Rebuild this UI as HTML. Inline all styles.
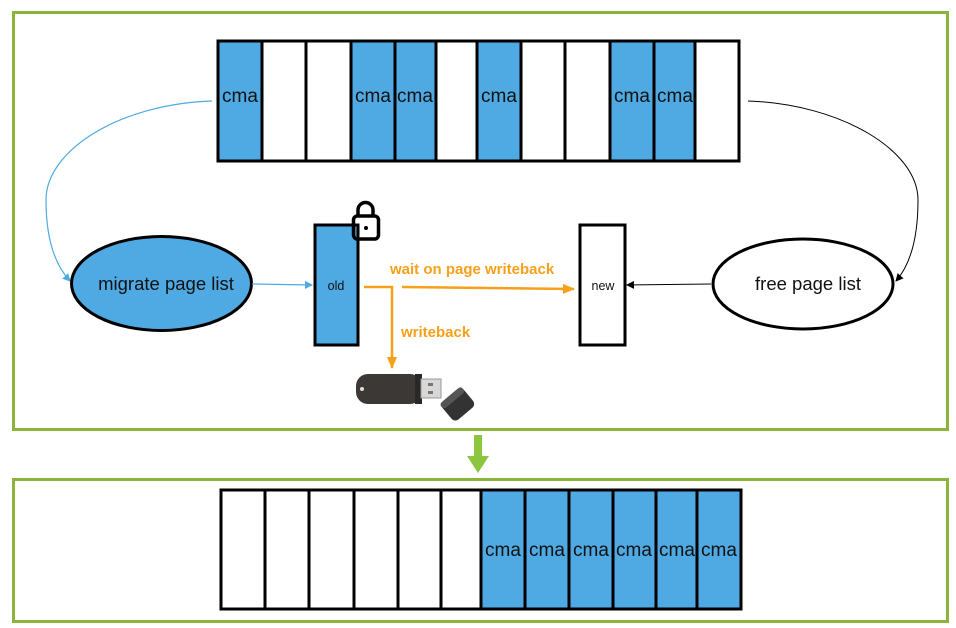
<!DOCTYPE html>
<html><head><meta charset="utf-8"><style>
html,body{margin:0;padding:0;background:#fff;}
svg{display:block;}
text{font-family:"Liberation Sans",Arial,sans-serif;}
</style></head><body>
<svg width="956" height="628" viewBox="0 0 956 628" xmlns="http://www.w3.org/2000/svg">
<defs>
<marker id="ab" markerWidth="8" markerHeight="8" refX="7" refY="4" orient="auto" markerUnits="userSpaceOnUse"><path d="M0,0 L8,4 L0,8 z" fill="#4fa9e2"/></marker>
<marker id="ak" markerWidth="8" markerHeight="8" refX="7" refY="4" orient="auto" markerUnits="userSpaceOnUse"><path d="M0,0 L8,4 L0,8 z" fill="#000"/></marker>
<marker id="ao" markerWidth="12" markerHeight="10" refX="11" refY="5" orient="auto" markerUnits="userSpaceOnUse"><path d="M0,0 L12,5 L0,10 z" fill="#f7a01a"/></marker>
</defs>
<rect x="13.5" y="12.5" width="934" height="417" fill="none" stroke="#8cb33a" stroke-width="3"/>
<rect x="13.5" y="479.5" width="934" height="142" fill="none" stroke="#8cb33a" stroke-width="3"/>
<g stroke="#000" stroke-width="3">
<rect x="218" y="41" width="44" height="120" fill="#4fa9e2"/>
<rect x="262" y="41" width="44" height="120" fill="#fff"/>
<rect x="306" y="41" width="45" height="120" fill="#fff"/>
<rect x="351" y="41" width="44" height="120" fill="#4fa9e2"/>
<rect x="395" y="41" width="41" height="120" fill="#4fa9e2"/>
<rect x="436" y="41" width="41" height="120" fill="#fff"/>
<rect x="477" y="41" width="44" height="120" fill="#4fa9e2"/>
<rect x="521" y="41" width="44" height="120" fill="#fff"/>
<rect x="565" y="41" width="45" height="120" fill="#fff"/>
<rect x="610" y="41" width="44" height="120" fill="#4fa9e2"/>
<rect x="654" y="41" width="41" height="120" fill="#4fa9e2"/>
<rect x="695" y="41" width="44" height="120" fill="#fff"/>
</g>
<g font-size="19" fill="#111" text-anchor="middle">
<text x="240" y="102">cma</text><text x="373" y="102">cma</text><text x="415" y="102">cma</text>
<text x="499" y="102">cma</text><text x="632" y="102">cma</text><text x="675" y="102">cma</text>
</g>
<path d="M212,101 C120,104 46,150 46,200 C46,240 55,265 70,281" fill="none" stroke="#4fa9e2" stroke-width="1.2" marker-end="url(#ab)"/>
<path d="M748,101 C840,104 918,150 918,200 C918,240 910,265 896,281" fill="none" stroke="#000" stroke-width="1" marker-end="url(#ak)"/>
<ellipse cx="161.5" cy="283.5" rx="90" ry="47" fill="#4fa9e2" stroke="#000" stroke-width="3"/>
<text x="166" y="290" font-size="18.5" text-anchor="middle" fill="#111">migrate page list</text>
<ellipse cx="803" cy="284" rx="90" ry="45" fill="#fff" stroke="#000" stroke-width="3"/>
<text x="808" y="290" font-size="18.5" text-anchor="middle" fill="#111">free page list</text>
<line x1="252" y1="284" x2="312" y2="285" stroke="#4fa9e2" stroke-width="1.2" marker-end="url(#ab)"/>
<line x1="711" y1="284" x2="627" y2="285" stroke="#000" stroke-width="1" marker-end="url(#ak)"/>
<rect x="315" y="225" width="43" height="120" fill="#4fa9e2" stroke="#000" stroke-width="3"/>
<text x="336" y="290" font-size="12.5" text-anchor="middle" fill="#111">old</text>
<rect x="580" y="225" width="45" height="120" fill="#fff" stroke="#000" stroke-width="3"/>
<text x="603" y="290" font-size="12.5" text-anchor="middle" fill="#111">new</text>
<path d="M358,217 v-7 a7.5,7.5 0 0 1 15,0 v7" fill="none" stroke="#000" stroke-width="3.5"/>
<rect x="353.5" y="216" width="25" height="23" rx="4" fill="none" stroke="#000" stroke-width="3.5"/>
<circle cx="366" cy="228" r="2" fill="#000"/>
<path d="M364,287 H392 V368" fill="none" stroke="#f7a01a" stroke-width="2.5" marker-end="url(#ao)"/>
<line x1="402" y1="287" x2="574" y2="289" stroke="#f7a01a" stroke-width="2.5" marker-end="url(#ao)"/>
<text x="390" y="274" font-size="15" font-weight="bold" fill="#f7a01a">wait on page writeback</text>
<text x="401" y="337" font-size="15" font-weight="bold" fill="#f7a01a">writeback</text>
<rect x="356" y="374" width="66" height="30" rx="12" fill="#3b3836"/>
<rect x="415" y="374" width="7" height="30" fill="#2a2827"/>
<rect x="421" y="379" width="20" height="19" fill="#d8d8d8" stroke="#999" stroke-width="1"/>
<rect x="428" y="383" width="5" height="3" fill="#777"/><rect x="428" y="391" width="5" height="3" fill="#777"/>
<circle cx="362" cy="389" r="2" fill="#ddd"/>
<g transform="rotate(-40 457 405)"><rect x="444" y="393" width="28" height="24" rx="5" fill="#333"/><rect x="444" y="393" width="28" height="7" rx="3" fill="#555"/></g>
<rect x="474" y="435" width="8" height="22" fill="#8cc63f"/>
<path d="M467,456 L489,456 L478,473 z" fill="#8cc63f"/>
<g stroke="#000" stroke-width="3">
<rect x="221" y="490" width="44" height="119" fill="#fff"/>
<rect x="265" y="490" width="44" height="119" fill="#fff"/>
<rect x="309" y="490" width="45" height="119" fill="#fff"/>
<rect x="354" y="490" width="44" height="119" fill="#fff"/>
<rect x="398" y="490" width="43" height="119" fill="#fff"/>
<rect x="441" y="490" width="40" height="119" fill="#fff"/>
<rect x="481" y="490" width="44" height="119" fill="#4fa9e2"/>
<rect x="525" y="490" width="44" height="119" fill="#4fa9e2"/>
<rect x="569" y="490" width="44" height="119" fill="#4fa9e2"/>
<rect x="613" y="490" width="43" height="119" fill="#4fa9e2"/>
<rect x="656" y="490" width="41" height="119" fill="#4fa9e2"/>
<rect x="697" y="490" width="44" height="119" fill="#4fa9e2"/>
</g>
<g font-size="19" fill="#111" text-anchor="middle">
<text x="503" y="556">cma</text><text x="547" y="556">cma</text><text x="591" y="556">cma</text>
<text x="634" y="556">cma</text><text x="677" y="556">cma</text><text x="719" y="556">cma</text>
</g>
</svg>
</body></html>
